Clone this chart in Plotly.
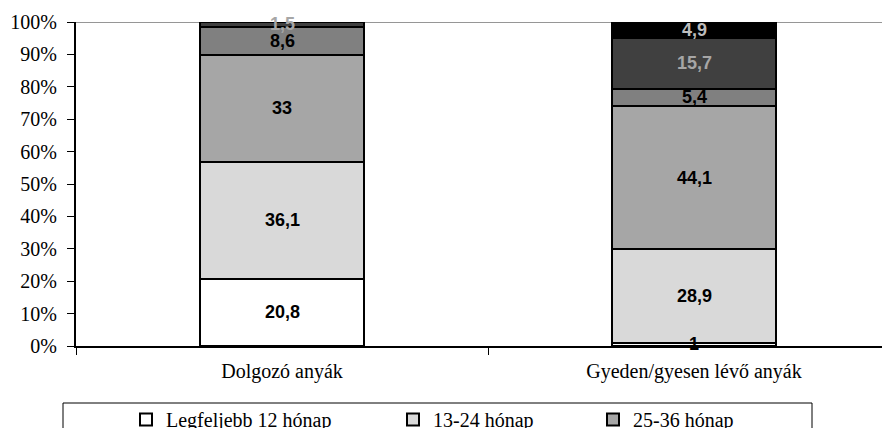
import plotly.graph_objects as go

categories = ["Dolgozó anyák", "Gyeden/gyesen lévő anyák"]
series_names = ["Legfeljebb 12 hónap", "13-24 hónap", "25-36 hónap",
                "37-48 hónap", "49-60 hónap", "60 hónapnál több"]
s1 = [20.8, 1.0]
s2 = [36.1, 28.9]
s3 = [33.0, 44.1]
s4 = [8.6, 5.4]
s5 = [1.5, 15.7]
s6 = [0.0, 4.9]
y_ticks = [0, 10, 20, 30, 40, 50, 60, 70, 80, 90, 100]
y_tick_labels = ["0%", "10%", "20%", "30%", "40%", "50%", "60%", "70%", "80%", "90%", "100%"]

series = [s1, s2, s3, s4, s5, s6]
fills = ["#ffffff", "#d9d9d9", "#a6a6a6", "#808080", "#404040", "#000000"]
label_colors = ["#000000", "#000000", "#000000", "#000000", "#a6a6a6", "#bdbdbd"]
legend_refs = ["legend", "legend2", "legend3", None, None, None]

# page body adds an 8px offset; figure coordinates = window coordinates - 8
OFF = 8
W, H = 890 - OFF, 428 - OFF
L, R, T, B = 76 - OFF, 0, 22 - OFF, 82
SERIF = "Liberation Serif, Times New Roman, serif"
SANS = "Liberation Sans, Arial, sans-serif"

fig = go.Figure()
for name, vals, col, lref in zip(series_names, series, fills, legend_refs):
    kw = dict(legend=lref, showlegend=True) if lref else dict(showlegend=False)
    fig.add_trace(go.Bar(
        x=categories, y=vals, name=name,
        marker=dict(color=col, line=dict(color="#000000", width=2)),
        hoverinfo="skip", **kw))

# data labels at the middle of each stacked segment
annotations = []
for ci, cat in enumerate(categories):
    base = 0.0
    for si, vals in enumerate(series):
        v = vals[ci]
        if v > 0:
            txt = (f"{v:g}").replace(".", ",")
            annotations.append(dict(
                x=cat, y=base + v / 2, xref="x", yref="y", text=f"<b>{txt}</b>",
                showarrow=False, yanchor="middle",
                font=dict(family=SANS, size=18, color=label_colors[si])))
        base += v

pw = W - L - R
ph = H - T - B

def px_x(p):  # window pixel -> paper
    return (p - OFF - L) / pw

def px_y(p):
    return (H - B - (p - OFF)) / ph

legend_common = dict(orientation="h", bgcolor="rgba(0,0,0,0)", borderwidth=0,
                     font=dict(family=SERIF, size=20, color="#000"),
                     xanchor="left", yanchor="top", itemwidth=30, tracegroupgap=0)

fig.update_layout(
    width=W, height=H,
    margin=dict(l=L, r=R, t=T, b=B, pad=0, autoexpand=False),
    paper_bgcolor="#ffffff", plot_bgcolor="#ffffff",
    barmode="stack", bargap=0.6,
    font=dict(family=SERIF, size=20, color="#000000"),
    xaxis=dict(range=[-0.5, -0.5 + pw / 412.0], showgrid=False, showline=True,
               linecolor="#000000", linewidth=2, ticks="outside", tickson="boundaries",
               ticklen=7, tickwidth=1, tickcolor="#000000", zeroline=False,
               ticklabelstandoff=6,
               tickfont=dict(family=SERIF, size=20)),
    yaxis=dict(range=[0, 100], tickvals=y_ticks, ticktext=y_tick_labels, showgrid=False,
               showline=True, linecolor="#000000", linewidth=2, ticks="outside",
               ticklen=7, tickwidth=1, tickcolor="#000000", zeroline=False,
               ticklabelstandoff=6,
               tickfont=dict(family=SERIF, size=20)),
    annotations=annotations,
    legend=dict(x=px_x(126), y=px_y(400), **legend_common),
    legend2=dict(x=px_x(393), y=px_y(400), **legend_common),
    legend3=dict(x=px_x(593), y=px_y(400), **legend_common),
    shapes=[
        dict(type="line", xref="paper", yref="y", x0=0, x1=1, y0=100, y1=100,
             line=dict(color="#969696", width=2), layer="below"),
        dict(type="rect", xref="paper", yref="paper", x0=px_x(63), x1=px_x(812),
             y0=px_y(450), y1=px_y(403), line=dict(color="#000000", width=1),
             fillcolor="rgba(0,0,0,0)"),
    ],
)

fig.write_html("out.html")
